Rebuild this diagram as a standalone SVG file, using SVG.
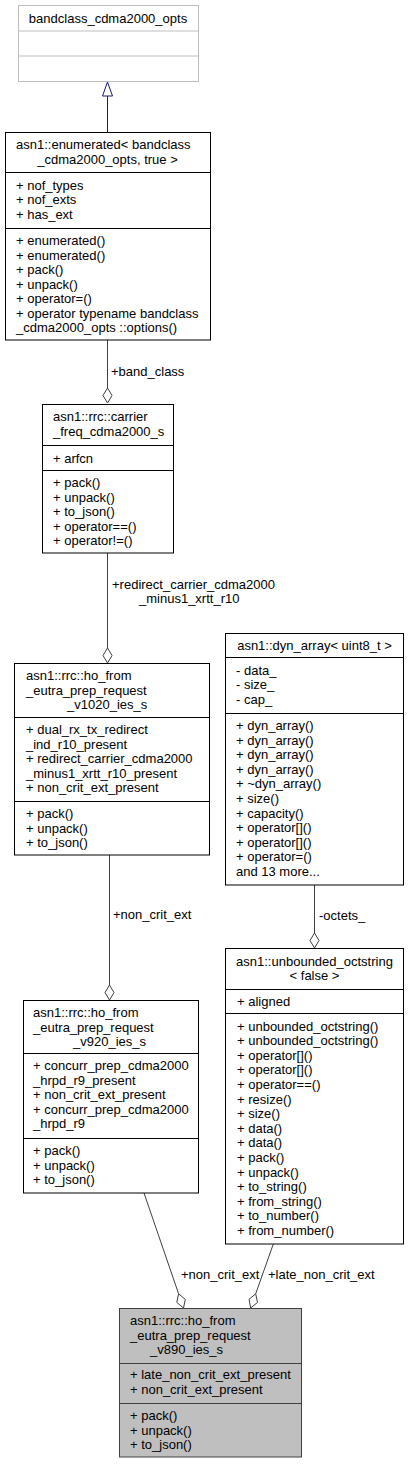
<svg xmlns="http://www.w3.org/2000/svg" width="409" height="1464" viewBox="0 0 409 1464">
<style>
text{font-family:"Liberation Sans",Arial,sans-serif;font-size:13px;fill:#000}
.m{text-anchor:middle}
.box{fill:#fff;stroke:#000;stroke-width:1}
.gbox{fill:#fff;stroke:#bfbfbf;stroke-width:1}
.root{fill:#bfbfbf;stroke:#404040;stroke-width:1}
.e{fill:none;stroke:#404040;stroke-width:1}
.dia{fill:#fff;stroke:#404040;stroke-width:1}
.inh{fill:none;stroke:#191970;stroke-width:1}
.tri{fill:#fff;stroke:#191970;stroke-width:1}
</style>
<rect width="409" height="1464" fill="#fff"/>
<g id="edges">
<line class="inh" x1="107.5" y1="96" x2="107.5" y2="132"/>
<polygon class="tri" points="107.5,82 102.5,96 112.5,96"/>
<line class="e" x1="107.5" y1="340" x2="107.5" y2="388"/>
<polygon class="dia" points="107.5,403 112,395.5 107.5,388 103,395.5"/>
<text x="111" y="376">+band_class</text>
<line class="e" x1="107.5" y1="553" x2="107.5" y2="648"/>
<polygon class="dia" points="107.5,663 112,655.5 107.5,648 103,655.5"/>
<text x="112" y="589">+redirect_carrier_cdma2000</text>
<text x="139" y="603">_minus1_xrtt_r10</text>
<line class="e" x1="109.5" y1="855" x2="109.5" y2="985"/>
<polygon class="dia" points="109.5,1000 114,992.5 109.5,985 105,992.5"/>
<text x="113" y="919">+non_crit_ext</text>
<line class="e" x1="314.5" y1="885" x2="314.5" y2="933"/>
<polygon class="dia" points="314.5,948 319,940.5 314.5,933 310,940.5"/>
<text x="319" y="920">-octets_</text>
<line class="e" x1="144" y1="1193" x2="178.6" y2="1293.8"/>
<polygon class="dia" points="183.5,1308 185.3,1299.4 178.6,1293.8 176.8,1302.4"/>
<text x="181" y="1279">+non_crit_ext</text>
<line class="e" x1="273.3" y1="1244" x2="255.7" y2="1293.8"/>
<polygon class="dia" points="250.7,1308 257.5,1302.4 255.7,1293.8 249.0,1299.4"/>
<text x="268" y="1279">+late_non_crit_ext</text>
</g>
<g id="node_bandclass_cdma2000_opts">
<rect class="gbox" x="18.5" y="5.5" width="180" height="76"/>
<line class="gbox" x1="18.5" y1="31" x2="198.5" y2="31"/>
<line class="gbox" x1="18.5" y1="56" x2="198.5" y2="56"/>
<text class="m" x="108" y="22.5">bandclass_cdma2000_opts</text>
</g>
<g id="node_enumerated">
<rect class="box" x="5.5" y="132.5" width="205" height="207.5"/>
<line class="box" x1="5.5" y1="172.5" x2="210.5" y2="172.5"/>
<line class="box" x1="5.5" y1="228.5" x2="210.5" y2="228.5"/>
<text x="16" y="149">asn1::enumerated&lt; bandclass</text>
<text class="m" x="107.5" y="163.5">_cdma2000_opts, true &gt;</text>
<text x="16" y="189.5">+ nof_types</text>
<text x="16" y="204">+ nof_exts</text>
<text x="16" y="218.5">+ has_ext</text>
<text x="16" y="245">+ enumerated()</text>
<text x="16" y="259.5">+ enumerated()</text>
<text x="16" y="274">+ pack()</text>
<text x="16" y="288.5">+ unpack()</text>
<text x="16" y="303">+ operator=()</text>
<text x="16" y="317.5">+ operator typename bandclass</text>
<text x="16" y="332">_cdma2000_opts ::options()</text>
</g>
<g id="node_carrier_freq_cdma2000_s">
<rect class="box" x="42.5" y="404.5" width="131" height="148.5"/>
<line class="box" x1="42.5" y1="445.5" x2="173.5" y2="445.5"/>
<line class="box" x1="42.5" y1="470.5" x2="173.5" y2="470.5"/>
<text x="53" y="421">asn1::rrc::carrier</text>
<text x="53" y="435.5">_freq_cdma2000_s</text>
<text x="53" y="462.5">+ arfcn</text>
<text x="53" y="487">+ pack()</text>
<text x="53" y="501.5">+ unpack()</text>
<text x="53" y="516">+ to_json()</text>
<text x="53" y="530.5">+ operator==()</text>
<text x="53" y="545">+ operator!=()</text>
</g>
<g id="node_v1020_ies_s">
<rect class="box" x="14.5" y="663.5" width="195" height="191.5"/>
<line class="box" x1="14.5" y1="717.5" x2="209.5" y2="717.5"/>
<line class="box" x1="14.5" y1="801.5" x2="209.5" y2="801.5"/>
<text x="26" y="680">asn1::rrc::ho_from</text>
<text x="26" y="694.5">_eutra_prep_request</text>
<text x="67" y="709">_v1020_ies_s</text>
<text x="26" y="734">+ dual_rx_tx_redirect</text>
<text x="26" y="748.5">_ind_r10_present</text>
<text x="26" y="763">+ redirect_carrier_cdma2000</text>
<text x="26" y="777.5">_minus1_xrtt_r10_present</text>
<text x="26" y="792">+ non_crit_ext_present</text>
<text x="26" y="818">+ pack()</text>
<text x="26" y="832.5">+ unpack()</text>
<text x="26" y="847">+ to_json()</text>
</g>
<g id="node_dyn_array">
<rect class="box" x="225.5" y="633.5" width="178" height="251.5"/>
<line class="box" x1="225.5" y1="657.5" x2="403.5" y2="657.5"/>
<line class="box" x1="225.5" y1="713.5" x2="403.5" y2="713.5"/>
<text class="m" x="314.5" y="650">asn1::dyn_array&lt; uint8_t &gt;</text>
<text x="236" y="674.5">- data_</text>
<text x="236" y="689">- size_</text>
<text x="236" y="703.5">- cap_</text>
<text x="236" y="730">+ dyn_array()</text>
<text x="236" y="744.6">+ dyn_array()</text>
<text x="236" y="759.2">+ dyn_array()</text>
<text x="236" y="773.8">+ dyn_array()</text>
<text x="236" y="788.4">+ ~dyn_array()</text>
<text x="236" y="803">+ size()</text>
<text x="236" y="817.6">+ capacity()</text>
<text x="236" y="832.2">+ operator[]()</text>
<text x="236" y="846.8">+ operator[]()</text>
<text x="236" y="861.4">+ operator=()</text>
<text x="236" y="876">and 13 more...</text>
</g>
<g id="node_v920_ies_s">
<rect class="box" x="23.5" y="1000.5" width="175" height="192.5"/>
<line class="box" x1="23.5" y1="1053.5" x2="198.5" y2="1053.5"/>
<line class="box" x1="23.5" y1="1138.5" x2="198.5" y2="1138.5"/>
<text x="33" y="1017">asn1::rrc::ho_from</text>
<text x="33" y="1031.5">_eutra_prep_request</text>
<text x="73" y="1046">_v920_ies_s</text>
<text x="33" y="1070">+ concurr_prep_cdma2000</text>
<text x="33" y="1084.5">_hrpd_r9_present</text>
<text x="33" y="1099">+ non_crit_ext_present</text>
<text x="33" y="1113.5">+ concurr_prep_cdma2000</text>
<text x="33" y="1128">_hrpd_r9</text>
<text x="33" y="1155">+ pack()</text>
<text x="33" y="1169.5">+ unpack()</text>
<text x="33" y="1184">+ to_json()</text>
</g>
<g id="node_unbounded_octstring">
<rect class="box" x="225.5" y="948.5" width="178" height="295.5"/>
<line class="box" x1="225.5" y1="989.5" x2="403.5" y2="989.5"/>
<line class="box" x1="225.5" y1="1013.5" x2="403.5" y2="1013.5"/>
<text class="m" x="314.5" y="965.5">asn1::unbounded_octstring</text>
<text class="m" x="314.5" y="980">&lt; false &gt;</text>
<text x="237" y="1006">+ aligned</text>
<text x="237" y="1030.5">+ unbounded_octstring()</text>
<text x="237" y="1045.1">+ unbounded_octstring()</text>
<text x="237" y="1059.7">+ operator[]()</text>
<text x="237" y="1074.3">+ operator[]()</text>
<text x="237" y="1088.9">+ operator==()</text>
<text x="237" y="1103.5">+ resize()</text>
<text x="237" y="1118.1">+ size()</text>
<text x="237" y="1132.7">+ data()</text>
<text x="237" y="1147.3">+ data()</text>
<text x="237" y="1161.9">+ pack()</text>
<text x="237" y="1176.5">+ unpack()</text>
<text x="237" y="1191.1">+ to_string()</text>
<text x="237" y="1205.7">+ from_string()</text>
<text x="237" y="1220.3">+ to_number()</text>
<text x="237" y="1234.9">+ from_number()</text>
</g>
<g id="node_v890_ies_s">
<rect class="root" x="119.5" y="1308.5" width="182" height="148.5"/>
<line class="root" x1="119.5" y1="1363.5" x2="301.5" y2="1363.5"/>
<line class="root" x1="119.5" y1="1403.5" x2="301.5" y2="1403.5"/>
<text x="130" y="1325">asn1::rrc::ho_from</text>
<text x="130" y="1339.5">_eutra_prep_request</text>
<text x="150" y="1354">_v890_ies_s</text>
<text x="130" y="1379">+ late_non_crit_ext_present</text>
<text x="130" y="1393.5">+ non_crit_ext_present</text>
<text x="130" y="1420">+ pack()</text>
<text x="130" y="1434.5">+ unpack()</text>
<text x="130" y="1449">+ to_json()</text>
</g>
</svg>
